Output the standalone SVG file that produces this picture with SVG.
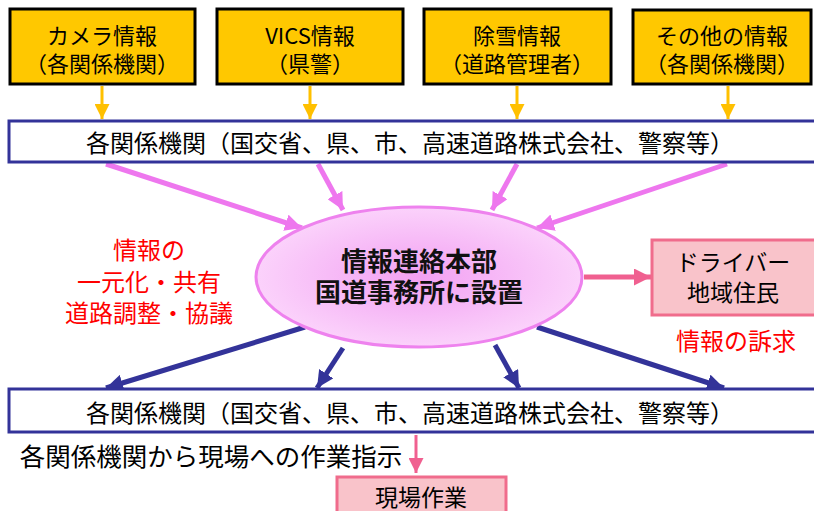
<svg xmlns="http://www.w3.org/2000/svg" width="814" height="511" viewBox="0 0 814 511">
<defs>
<style>
text{font-family:"Noto Sans CJK JP","Noto Sans CJK SC",sans-serif;text-anchor:middle}
.src rect{fill:#FFC800;stroke:#000;stroke-width:3}
.src text{font-size:22px;fill:#000}
.bar rect{fill:#fff;stroke:#333399;stroke-width:3}
.bar text{font-size:24px;fill:#000}
.red{fill:#F00;font-size:24px}
.pk rect{fill:#F9C3CA;stroke:#F06C8C;stroke-width:3}
.pk text{font-size:23px;fill:#000}
.y{stroke:#FFC000;stroke-width:3;fill:none}
.m{stroke:#EE77EE;stroke-width:5;fill:none}
.n{stroke:#333399;stroke-width:5;fill:none}
.r{stroke:#F06090;stroke-width:5;fill:none}
.r2{stroke:#F06090;stroke-width:3;fill:none}
</style>
<marker id="ay" viewBox="0 0 10 10" refX="10" refY="5" markerWidth="5" markerHeight="5" orient="auto" markerUnits="strokeWidth"><path d="M0,0L10,5L0,10z" fill="#FFC000"/></marker>
<marker id="am" viewBox="0 0 10 10" refX="10" refY="5" markerWidth="3.4" markerHeight="3.4" orient="auto" markerUnits="strokeWidth"><path d="M0,0L10,5L0,10z" fill="#EE77EE"/></marker>
<marker id="an" viewBox="0 0 10 10" refX="10" refY="5" markerWidth="3.4" markerHeight="3.4" orient="auto" markerUnits="strokeWidth"><path d="M0,0L10,5L0,10z" fill="#333399"/></marker>
<marker id="ar" viewBox="0 0 10 10" refX="10" refY="5" markerWidth="3.4" markerHeight="3.4" orient="auto" markerUnits="strokeWidth"><path d="M0,0L10,5L0,10z" fill="#F06090"/></marker>
<marker id="ar2" viewBox="0 0 10 10" refX="10" refY="5" markerWidth="5" markerHeight="5" orient="auto" markerUnits="strokeWidth"><path d="M0,0L10,5L0,10z" fill="#F06090"/></marker>
<radialGradient id="eg" cx="0.5" cy="0.5" r="0.5">
<stop offset="0" stop-color="#F2A0F2"/>
<stop offset="1" stop-color="#FBD2FB"/>
</radialGradient>
</defs>
<rect width="814" height="511" fill="#fff"/>

<g id="connectors">
<line class="y" x1="102" y1="86" x2="102" y2="119" marker-end="url(#ay)"/>
<line class="y" x1="310" y1="86" x2="310" y2="119" marker-end="url(#ay)"/>
<line class="y" x1="517" y1="86" x2="517" y2="119" marker-end="url(#ay)"/>
<line class="y" x1="728" y1="86" x2="728" y2="119" marker-end="url(#ay)"/>
<line class="m" x1="106" y1="164" x2="302" y2="228" marker-end="url(#am)"/>
<line class="m" x1="318" y1="164" x2="343" y2="210" marker-end="url(#am)"/>
<line class="m" x1="517" y1="164" x2="492" y2="210" marker-end="url(#am)"/>
<line class="m" x1="727" y1="164" x2="537" y2="228" marker-end="url(#am)"/>
<line class="n" x1="305" y1="327" x2="106" y2="388" marker-end="url(#an)"/>
<line class="n" x1="343" y1="348" x2="317" y2="388" marker-end="url(#an)"/>
<line class="n" x1="495" y1="345" x2="519" y2="388" marker-end="url(#an)"/>
<line class="n" x1="537" y1="327" x2="724" y2="388" marker-end="url(#an)"/>
<line class="r" x1="584" y1="277" x2="651" y2="277" marker-end="url(#ar)"/>
<line class="r2" x1="416" y1="435" x2="416" y2="473" marker-end="url(#ar2)"/>
</g>

<g id="n-camera" class="src"><rect x="10" y="9" width="185" height="75"/><text x="102" y="44">カメラ情報</text><text x="102" y="72">（各関係機関）</text></g>
<g id="n-vics" class="src"><rect x="217" y="9" width="186" height="75"/><text x="310" y="44">VICS情報</text><text x="310" y="72">（県警）</text></g>
<g id="n-snow" class="src"><rect x="424" y="9" width="187" height="75"/><text x="517" y="44">除雪情報</text><text x="517" y="72">（道路管理者）</text></g>
<g id="n-other" class="src"><rect x="633" y="10" width="178" height="74"/><text x="722" y="44">その他の情報</text><text x="722" y="72">（各関係機関）</text></g>

<g id="n-top" class="bar"><rect x="9" y="121" width="815" height="41"/><text x="410" y="152">各関係機関（国交省、県、市、高速道路株式会社、警察等）</text></g>

<g id="n-hq"><ellipse cx="419" cy="277" rx="163" ry="70" fill="url(#eg)" stroke="#EE82EE" stroke-width="3"/>
<text x="419" y="271" font-size="26" font-weight="bold" fill="#111">情報連絡本部</text>
<text x="419" y="302" font-size="26" font-weight="bold" fill="#111">国道事務所に設置</text></g>

<g id="t-left"><text class="red" x="149" y="259">情報の</text><text class="red" x="149" y="291">一元化・共有</text><text class="red" x="149" y="322">道路調整・協議</text></g>

<g id="n-driver" class="pk"><rect x="652" y="240" width="170" height="75"/><text x="733" y="271">ドライバー</text><text x="733" y="301">地域住民</text></g>
<g id="t-appeal"><text class="red" x="736" y="350">情報の訴求</text></g>

<g id="n-bottom" class="bar"><rect x="9" y="389" width="815" height="43"/><text x="410" y="422">各関係機関（国交省、県、市、高速道路株式会社、警察等）</text></g>

<g id="t-instr"><text x="211" y="466" font-size="25.5" fill="#000">各関係機関から現場への作業指示</text></g>

<g id="n-field" class="pk"><rect x="337" y="477" width="169" height="45"/><text x="421" y="506" font-size="25">現場作業</text></g>
</svg>
